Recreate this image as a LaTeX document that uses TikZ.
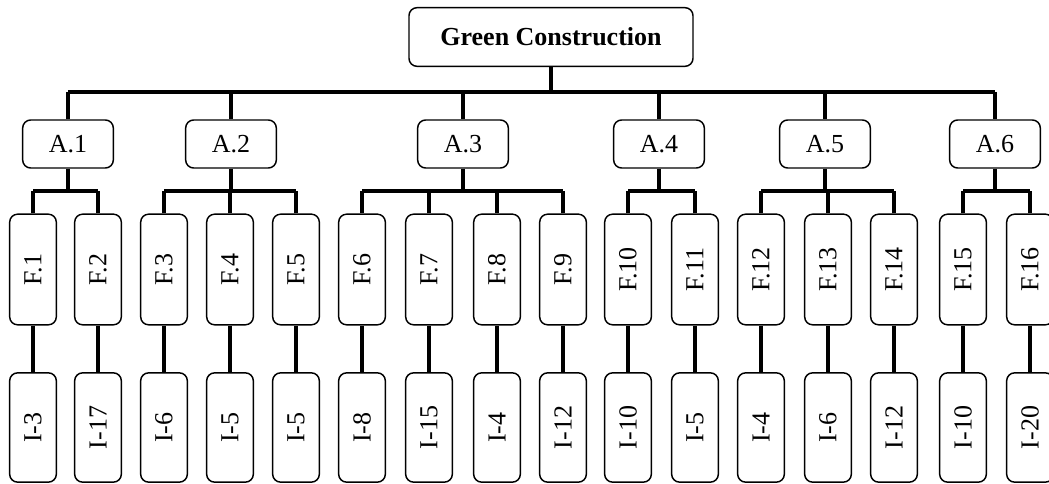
\documentclass[tikz,border=0pt]{standalone}
\usepackage{fontspec}
\setmainfont{Liberation Serif}
\usepackage{tikz}
\usetikzlibrary{positioning}

\begin{document}
\begin{tikzpicture}[x=0.75pt,y=-0.75pt,
    caja/.style={draw,line width=1.1pt,rounded corners=6pt,fill=white,
        inner sep=0pt,font=\fontsize{19.5}{23}\selectfont},
    raizcaja/.style={caja,minimum width=213pt,minimum height=44pt,font=\fontsize{19.5}{23}\selectfont\bfseries},
    acaja/.style={caja,minimum width=68pt,minimum height=36pt},
    fcaja/.style={caja,minimum width=35pt,minimum height=83pt},
    icaja/.style={caja,minimum width=35pt,minimum height=82pt},
    linea/.style={line width=2.5pt}]

    % Marco
    \clip (0,0) rectangle (1049,484);

    % Nivel superior
    \node[raizcaja] (raiz) at (551,37) {Green Construction};

    % Aspectos
    \foreach \i/\x in {1/68,2/231,3/463,4/659,5/825,6/995}
        \node[acaja] (a\i) at (\x,144) {A.\i};

    % Factores e indicadores
    \foreach \k/\x/\n in {1/33/3,2/98/17,3/164/6,4/230/5,5/296/5,6/362/8,
                          7/429/15,8/497/4,9/563/12,10/628/10,11/695/5,
                          12/761/4,13/828/6,14/894/12,15/963/10,16/1030/20} {
        \node[fcaja] (f\k) at (\x,269.5) {\rotatebox{90}{F.\k}};
        \node[icaja] (i\k) at (\x,427.5) {\rotatebox{90}{I-\n}};
        \draw[linea] (f\k.south) -- (i\k.north);
    }

    % Barras de union
    \coordinate (bus) at (0,92);
    \coordinate (sub) at (0,191);
    \draw[linea] (raiz.south) -- (raiz.south |- bus);
    \draw[linea] (a1.north |- bus) -- (a6.north |- bus);
    \foreach \i in {1,...,6}
        \draw[linea] (a\i.north) -- (a\i.north |- bus);

    \foreach \a/\p/\u in {1/1/2,2/3/5,3/6/9,4/10/11,5/12/14,6/15/16} {
        \draw[linea] (a\a.south) -- (a\a.south |- sub);
        \draw[linea] (f\p.north |- sub) -- (f\u.north |- sub);
        \foreach \k in {\p,...,\u}
            \draw[linea] (f\k.north) -- (f\k.north |- sub);
    }
\end{tikzpicture}
\end{document}
